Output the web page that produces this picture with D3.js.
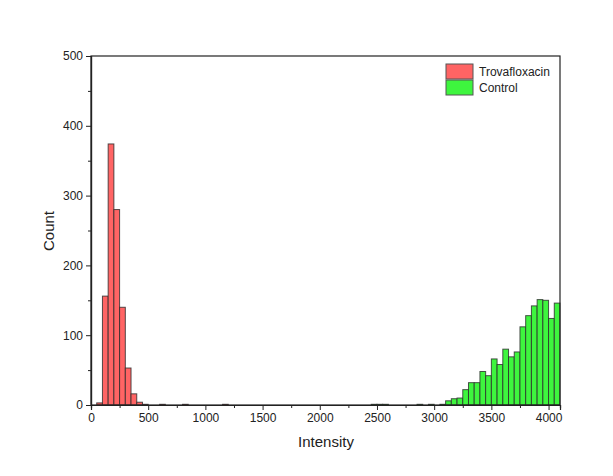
<!DOCTYPE html>
<html>
<head>
<meta charset="utf-8">
<script src="https://cdn.jsdelivr.net/npm/d3@7"></script>
<style>
  body { margin: 0; background: #fff; }
  text { font-family: "Liberation Sans", Arial, sans-serif; fill: #222; }
</style>
</head>
<body>
<svg id="chart" width="613" height="476"></svg>
<script>
// histogram bins, 50 wide, keyed by left edge
const trovaStarts = [50, 100, 150, 200, 250, 300, 350, 400, 450, 600, 800, 1150];
const trovaCounts = [3, 156, 374, 280, 140, 53, 16, 4, 1, 1, 1, 1];

const controlStarts = [2450, 2500, 2550, 2850, 2950, 3050, 3100, 3150, 3200, 3250, 3300, 3350, 3400, 3450,
  3500, 3550, 3600, 3650, 3700, 3750, 3800, 3850, 3900, 3950, 4000, 4050];
const controlCounts = [1, 1, 1, 1, 1, 1, 6, 9, 10, 22, 32, 32, 48, 42,
  66, 58, 80, 69, 76, 112, 128, 142, 151, 150, 124, 146];

const binWidth = 50;
const xTicks = [0, 500, 1000, 1500, 2000, 2500, 3000, 3500, 4000];
const yTicks = [0, 100, 200, 300, 400, 500];
const seriesNames = ['Trovafloxacin', 'Control'];
const seriesColors = ['#ff6464', '#3ef53e'];

const svg = d3.select('#chart');
const m = { left: 91, right: 560, top: 56, bottom: 405 };

const x = d3.scaleLinear().domain([0, 4100]).range([m.left, m.right]);
const y = d3.scaleLinear().domain([0, 500]).range([m.bottom, m.top]);

// bars
const series = [
  { starts: trovaStarts, counts: trovaCounts, color: seriesColors[0] },
  { starts: controlStarts, counts: controlCounts, color: seriesColors[1] }
];
series.forEach(s => {
  svg.append('g').selectAll('rect')
    .data(s.starts.map((b, i) => ({ b, c: s.counts[i] })))
    .enter().append('rect')
    .attr('x', d => x(d.b))
    .attr('y', d => y(d.c))
    .attr('width', d => x(d.b + binWidth) - x(d.b))
    .attr('height', d => y(0) - y(d.c))
    .attr('fill', s.color)
    .attr('stroke', '#2a2a2a')
    .attr('stroke-opacity', 0.8)
    .attr('stroke-width', 1);
});

// frame
svg.append('rect')
  .attr('x', m.left).attr('y', m.top)
  .attr('width', m.right - m.left).attr('height', m.bottom - m.top)
  .attr('fill', 'none').attr('stroke', '#222').attr('stroke-width', 1.2);

// x axis
svg.append('g').attr('transform', `translate(0,${m.bottom})`)
  .call(d3.axisBottom(x).tickValues(xTicks).tickSize(5).tickPadding(3).tickFormat(d3.format('d')));
svg.append('g').attr('transform', `translate(0,${m.bottom})`)
  .call(d3.axisBottom(x).tickValues(d3.range(250, 4100, 500)).tickSize(3).tickFormat(''));

// y axis
svg.append('g').attr('transform', `translate(${m.left},0)`)
  .call(d3.axisLeft(y).tickValues(yTicks).tickSize(5).tickPadding(3));
svg.append('g').attr('transform', `translate(${m.left},0)`)
  .call(d3.axisLeft(y).tickValues(d3.range(50, 500, 100)).tickSize(3).tickFormat(''));

svg.selectAll('.domain').attr('stroke', '#222').attr('stroke-width', 1.2);
svg.selectAll('.tick line').attr('stroke', '#222');
svg.selectAll('.tick text').style('font-size', '12px').style('font-family', '"Liberation Sans", Arial, sans-serif').attr('fill', '#222');

// titles
svg.append('text').attr('x', 326).attr('y', 447).attr('text-anchor', 'middle')
  .style('font-size', '15px').text('Intensity');
svg.append('text').attr('transform', 'translate(54,231) rotate(-90)').attr('text-anchor', 'middle')
  .style('font-size', '15px').text('Count');

// legend
const lg = svg.append('g').attr('transform', 'translate(446,64)');
seriesNames.forEach((n, i) => {
  lg.append('rect').attr('x', 0).attr('y', i * 16).attr('width', 27).attr('height', 15)
    .attr('fill', seriesColors[i]).attr('stroke', '#555').attr('stroke-width', 1);
  lg.append('text').attr('x', 33).attr('y', i * 16 + 12).style('font-size', '12px').text(n);
});
</script>
</body>
</html>
